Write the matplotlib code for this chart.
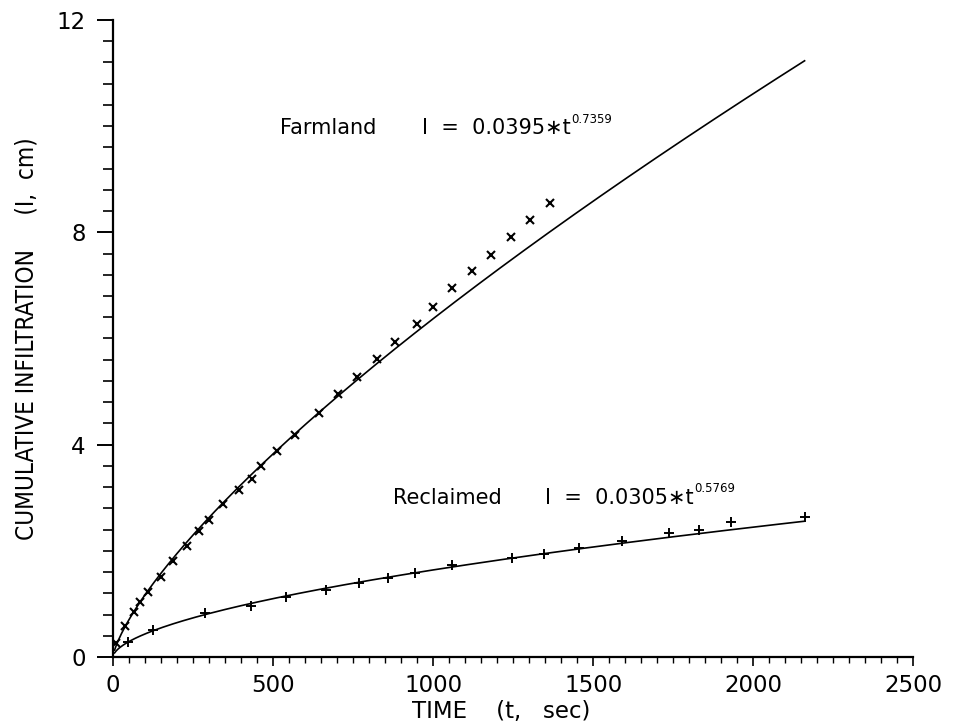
import numpy as np
import matplotlib
matplotlib.use("Agg")
import matplotlib.pyplot as plt
from matplotlib.ticker import MultipleLocator
from matplotlib import font_manager as fm

# ---- data ----
farm_t = [9, 37, 66, 86, 111, 150, 186, 230, 269, 301, 343, 393, 435, 461, 511,
          568, 644, 703, 763, 824, 882, 951, 1000, 1060, 1121, 1180, 1242, 1303, 1366]
farm_I = [0.26, 0.58, 0.85, 1.04, 1.23, 1.51, 1.81, 2.10, 2.37, 2.59, 2.88, 3.15,
          3.36, 3.60, 3.88, 4.19, 4.60, 4.96, 5.27, 5.62, 5.94, 6.27, 6.60, 6.95,
          7.27, 7.57, 7.92, 8.24, 8.56]

recl_t = [46, 124, 287, 430, 541, 666, 767, 858, 944, 1060, 1245, 1345, 1457,
          1590, 1737, 1830, 1930, 2162]
recl_I = [0.29, 0.51, 0.82, 0.97, 1.13, 1.26, 1.39, 1.48, 1.58, 1.73, 1.86, 1.94,
          2.05, 2.19, 2.33, 2.40, 2.54, 2.64]

# fitted power laws shown on the chart: I = a * t^b
farm_a, farm_b = 0.0395, 0.7359
recl_a, recl_b = 0.0305, 0.5769
fit_t_range = (5, 2160)

x_ticks = [0, 500, 1000, 1500, 2000, 2500]
y_ticks = [0, 4, 8, 12]

# pick a regular condensed / narrow font for the y label if one exists
def pick_condensed():
    cands = []
    for f in fm.fontManager.ttflist:
        fn = f.fname.lower()
        if ("condensed" in fn or "narrow" in fn) and not any(
                k in fn for k in ("bold", "oblique", "italic")):
            cands.append(f.fname)
    cands.sort(key=lambda p: (0 if "dejavu" in p.lower() else 1, p))
    return cands[0] if cands else None

cond_file = pick_condensed()
if cond_file:
    ylab_fp = fm.FontProperties(fname=cond_file, size=20)
else:
    ylab_fp = fm.FontProperties(family="DejaVu Sans", size=16)

fig = plt.figure(figsize=(9.54, 7.26), dpi=100)
ax = fig.add_axes([0.1184, 0.0950, 0.9575 - 0.1184, 0.9725 - 0.0950])

tt = np.linspace(fit_t_range[0], fit_t_range[1], 400)
ax.plot(tt, farm_a * tt ** farm_b, color="black", lw=1.2)
ax.plot(tt, recl_a * tt ** recl_b, color="black", lw=1.2)
ax.plot(farm_t, farm_I, linestyle="none", marker="x", ms=5.5, mew=1.5, color="black")
ax.plot(recl_t, recl_I, linestyle="none", marker="+", ms=6.5, mew=1.4, color="black")

ax.set_xlim(0, 2500)
ax.set_ylim(0, 12)
ax.set_xticks(x_ticks)
ax.set_yticks(y_ticks)
ax.xaxis.set_minor_locator(MultipleLocator(50))
ax.yaxis.set_minor_locator(MultipleLocator(0.4))

for s in ["top", "right"]:
    ax.spines[s].set_visible(False)
for s in ["left", "bottom"]:
    ax.spines[s].set_linewidth(1.6)

ax.tick_params(axis="y", which="major", direction="out", length=11.5, width=1.4,
               labelsize=16.5, pad=8)
ax.tick_params(axis="y", which="minor", direction="out", length=7, width=1.2)
ax.tick_params(axis="x", which="major", direction="out", length=6.5, width=1.2,
               labelsize=16.5, pad=6)
ax.tick_params(axis="x", which="minor", direction="out", length=4.5, width=1.0)

ax.set_xlabel("TIME    (t,   sec)", fontsize=16.5)
ax.xaxis.set_label_coords(0.485, -0.068)
ylab = ax.set_ylabel("CUMULATIVE INFILTRATION     (I,  cm)", fontproperties=ylab_fp)
ylab.set_va("center")
ax.yaxis.set_label_coords(-0.108, 0.5)

# equation annotations
def equation(x_name, x_eq, y, name, body, sup):
    ax.text(x_name, y, name, fontsize=15, va="center", ha="left")
    t_main = ax.text(x_eq, y, body, fontsize=15, va="center", ha="left")
    ax.annotate(sup, xy=(1.0, 0.62), xycoords=t_main, fontsize=8.5,
                va="bottom", ha="left", xytext=(0.5, 0), textcoords="offset points")

equation(521, 965, 9.96, "Farmland", "I  =  0.0395\u2217t", "0.7359")
equation(874, 1349, 3.0, "Reclaimed", "I  =  0.0305\u2217t", "0.5769")

# scale the condensed y label so its length matches the reference
fig.canvas.draw()
bb = ylab.get_window_extent()
target = 405.0
ylab_fp.set_size(ylab_fp.get_size() * target / bb.height)
ylab.set_fontproperties(ylab_fp)

fig.savefig("out.png", dpi=100, facecolor="white")
